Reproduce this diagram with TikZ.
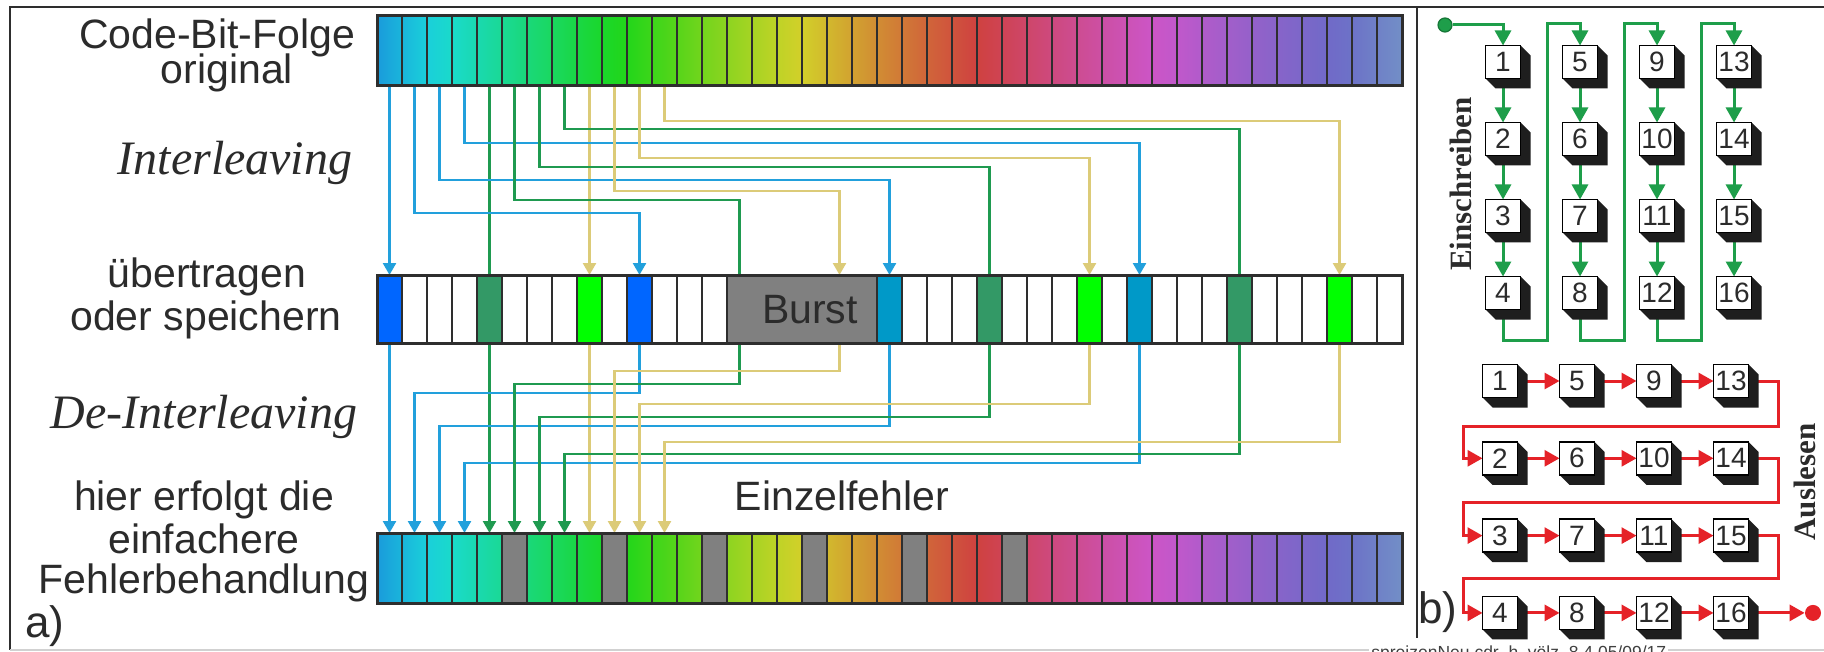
\documentclass[tikz,border=0pt]{standalone}
\usepackage{fontspec}
\setmainfont{Liberation Sans}
\newfontfamily\serifface{Liberation Serif}
\usetikzlibrary{arrows.meta}

\pgfdeclarelayer{paper}
\pgfdeclarelayer{wires}
\pgfsetlayers{paper,wires,main}

\definecolor{ink}{HTML}{2B2B2B}
\definecolor{frame}{HTML}{2E2E2E}
\definecolor{wireblue}{HTML}{22A0DC}
\definecolor{wiregreen}{HTML}{1F9A50}
\definecolor{wireyellow}{HTML}{DCCB78}
\definecolor{cblue}{HTML}{0066FF}
\definecolor{cteal}{HTML}{0099C8}
\definecolor{cdkgreen}{HTML}{339966}
\definecolor{cbright}{HTML}{00FF00}
\definecolor{burstgray}{HTML}{808080}
\definecolor{writegreen}{HTML}{1E9E4A}
\definecolor{readred}{HTML}{E52228}
\definecolor{qdark}{HTML}{1E1E1E}

% rainbow colour of bit #2 of the code sequence, stored as rgb colour #1
\newcommand\setrainbow[2]{%
  \pgfmathsetmacro\rbh{560-8.3*(#2)}%
  \pgfmathsetmacro\rbh{\rbh>=360 ? \rbh-360 : \rbh}%
  \pgfmathsetmacro\rbh{max(0,min(359.5,\rbh))}%
  \pgfmathsetmacro\rbs{(#2)<12 ? 0.88 : 0.88-0.0157*((#2)-12)}%
  \pgfmathsetmacro\rbv{0.86-0.002*(#2)}%
  \definecolor{rbtmp}{Hsb}{\rbh,\rbs,\rbv}%
  \colorlet{#1}[rgb]{rbtmp}%
}

% 3D memory cell: name, x, y, label
\newcommand\qbox[4]{%
  \fill[qdark] (#2+17.5,#3-16.5) -- ++(10,10) -- ++(0,33) -- ++(-35,0)
      -- ++(-10,-10) -- ++(35,0) -- cycle;
  \node[qface] (#1) at (#2,#3) {#4};
}

\begin{document}
\begin{tikzpicture}[x=0.5pt,y=-0.5pt,
  cell/.style={rectangle, draw=frame, line width=1pt, minimum width=12.5pt,
    minimum height=35pt, inner sep=0pt, outer sep=0pt},
  mcell/.style={cell, minimum height=34pt},
  lbl/.style={anchor=base, text=ink, inner sep=0pt,
    font=\fontsize{20.5}{24}\selectfont},
  ital/.style={anchor=base, text=ink, inner sep=0pt,
    font=\serifface\itshape\fontsize{24}{28}\selectfont},
  vlabel/.style={rotate=90, text=ink, inner sep=0pt,
    font=\serifface\bfseries\fontsize{15.5}{16}\selectfont},
  wire/.style={line width=1.25pt},
  lineB/.style={wire, draw=wireblue},
  lineG/.style={wire, draw=wiregreen},
  lineY/.style={wire, draw=wireyellow},
  tipL/.style={-{Triangle[width=6.5pt,length=6pt]}},
  tipR/.style={-{Triangle[width=8pt,length=7.5pt]}},
  lineW/.style={draw=writegreen, line width=1.5pt},
  lineR/.style={draw=readred, line width=1.5pt},
  qface/.style={rectangle, draw=black, line width=0.9pt, fill=white,
    minimum width=17.5pt, minimum height=16.5pt, inner sep=0pt, outer sep=0pt,
    text=ink, font=\fontsize{14}{14}\selectfont},
]
\useasboundingbox (0,0) rectangle (1824,652);
\begin{pgfonlayer}{paper}
  \fill[white] (0,0) rectangle (1824,652);
\end{pgfonlayer}

% ---------- frame ----------
\draw[frame, line width=1.25pt] (1824,7) -- (10,7) -- (10,650);
\draw[black!18, line width=1pt] (10,650) -- (1824,650);
\draw[frame, line width=1pt] (1417,7) -- (1417,638);

% ---------- original code bit sequence ----------
\foreach \i in {0,...,40}{
  \setrainbow{cA}{\i}\setrainbow{cB}{\i+1}
  \node[cell, left color=cA, right color=cB] (t\i) at (389.5+25*\i,51) {};
}
\draw[frame, line width=1.5pt] (t0.north west) rectangle (t40.south east);

% ---------- transmitted / stored sequence ----------
\foreach \i/\c in {0/cblue,1/white,2/white,3/white,4/cdkgreen,5/white,6/white,
  7/white,8/cbright,9/white,10/cblue,11/white,12/white,13/white,14/burstgray,
  15/burstgray,16/burstgray,17/burstgray,18/burstgray,19/burstgray,20/cteal,
  21/white,22/white,23/white,24/cdkgreen,25/white,26/white,27/white,28/cbright,
  29/white,30/cteal,31/white,32/white,33/white,34/cdkgreen,35/white,36/white,
  37/white,38/cbright,39/white,40/white}{
  \node[mcell, fill=\c] (m\i) at (389.5+25*\i,309) {};
}
\node[rectangle, draw=frame, line width=1pt, fill=burstgray, inner sep=0pt,
  outer sep=0pt, minimum width=75pt, minimum height=34pt] (burst) at (802,309) {};
\node[lbl] (lburst) at (810,323) {Burst};
\draw[frame, line width=1.5pt] (m0.north west) rectangle (m40.south east);

% ---------- de-interleaved sequence ----------
\foreach \i in {0,...,40}{
  \pgfmathtruncatemacro\isgray{(\i>4)&&(\i<26)&&(mod(\i-1,4)==0)}
  \ifnum\isgray=1
    \node[cell, fill=burstgray] (b\i) at (389.5+25*\i,568) {};
  \else
    \setrainbow{cA}{\i}\setrainbow{cB}{\i+1}
    \node[cell, left color=cA, right color=cB] (b\i) at (389.5+25*\i,568) {};
  \fi
}
\draw[frame, line width=1.5pt] (b0.north west) rectangle (b40.south east);

% ---------- interleaving / de-interleaving wires ----------
\begin{pgfonlayer}{wires}
  % interleaving
  \draw[lineB,tipL] (t0.south) -- (m0.north);
  \draw[lineG] (t4.south) -- (m4.north);
  \draw[lineY,tipL] (t8.south) -- (m8.north);
  \foreach \s/\d/\h in {1/10/213,2/20/180,3/30/143}
    \draw[lineB,tipL] (t\s.south) -- (t\s.south |- 0,\h) -| (m\d.north);
  \foreach \s/\d/\h in {5/14/200,6/24/167,7/34/129}
    \draw[lineG] (t\s.south) -- (t\s.south |- 0,\h) -| (m\d.north);
  \foreach \s/\d/\h in {9/18/191,10/28/158,11/38/121}
    \draw[lineY,tipL] (t\s.south) -- (t\s.south |- 0,\h) -| (m\d.north);
  % de-interleaving
  \draw[lineB,tipL] (m0.south) -- (b0.north);
  \draw[lineG,tipL] (m4.south) -- (b4.north);
  \draw[lineY,tipL] (m8.south) -- (b8.north);
  \foreach \s/\d/\h in {10/1/393,20/2/426,30/3/463}
    \draw[lineB,tipL] (m\s.south) -- (m\s.south |- 0,\h) -| (b\d.north);
  \foreach \s/\d/\h in {14/5/384,24/6/417,34/7/454}
    \draw[lineG,tipL] (m\s.south) -- (m\s.south |- 0,\h) -| (b\d.north);
  \foreach \s/\d/\h in {18/9/371,28/10/404,38/11/442}
    \draw[lineY,tipL] (m\s.south) -- (m\s.south |- 0,\h) -| (b\d.north);
\end{pgfonlayer}

% ---------- left labels ----------
\node[lbl] (lcode) at (217,49) {Code-Bit-Folge};
\node[lbl] (lorig) at (227,84) {original};
\node[ital] (linter) at (235,175) {Interleaving};
\node[lbl] (lueb) at (207,287) {übertragen};
\node[lbl] (lspei) at (206,330) {oder speichern};
\node[ital] (ldeint) at (204,428) {De-Interleaving};
\node[lbl] (lhier) at (204,510) {hier erfolgt die};
\node[lbl] (leinf) at (204,553) {einfachere};
\node[lbl] (lfehl) at (204,593) {Fehlerbehandlung};
\node[lbl] (lsingle) at (842,510) {Einzelfehler};
\node[lbl, anchor=base west, font=\fontsize{22}{24}\selectfont] (la) at (25,637) {a)};

% ---------- b) block interleaver 4x4 ----------
\foreach \k in {0,...,3}{
  \foreach \r in {0,...,3}{
    \pgfmathtruncatemacro\qn{4*\k+\r+1}
    \qbox{q\qn}{1503+77*\k}{62+77*\r}{\qn}
    \qbox{s\qn}{1500+77*\k}{381+77.3*\r}{\qn}
  }
}
\node[circle, fill=writegreen, draw=writegreen!75!black, line width=0.6pt,
  minimum size=7pt, inner sep=0pt] (start) at (1445,25) {};
\node[circle, fill=readred, minimum size=8pt, inner sep=0pt] (stop) at (s16 -| 1813,0) {};

\begin{pgfonlayer}{wires}
  % writing column by column
  \draw[lineW,tipR] (start.east) -| (q1.north);
  \foreach \a/\b in {1/2,2/3,3/4,5/6,6/7,7/8,9/10,10/11,11/12,13/14,14/15,15/16}
    \draw[lineW,tipR] (q\a) -- (q\b.north);
  \foreach \a/\b/\u in {4/5/1547,8/9/1624,12/13/1701}
    \draw[lineW,tipR] (q\a) |- (\u,340) -- (\u,24) -| (q\b.north);
  % reading row by row
  \foreach \a/\b in {1/5,5/9,9/13,2/6,6/10,10/14,3/7,7/11,11/15,4/8,8/12,12/16}
    \draw[lineR,tipR] (s\a) -- (s\b.west);
  \foreach \a/\b/\v in {13/2/426,14/3/502,15/4/578}
    \draw[lineR,tipR] (s\a) -| (1778,\v) -- (1463,\v) |- (s\b.west);
  \draw[lineR,tipR] (s16) -- (stop.west);
\end{pgfonlayer}

\node[vlabel] (lwrite) at (1461,184) {Einschreiben};
\node[vlabel] (lread) at (1805,482) {Auslesen};
\node[lbl, anchor=base west, font=\fontsize{22}{24}\selectfont] (lbpart) at (1418,623) {b)};

% ---------- file note ----------
\node[anchor=north west, fill=white, inner sep=1pt, text=black!75,
  font=\fontsize{8.75}{10}\selectfont] (footer) at (1369,643)
  {spreizenNeu.cdr\ \ h.\ völz\ \ 8.4.05/09/17};
\end{tikzpicture}
\end{document}
